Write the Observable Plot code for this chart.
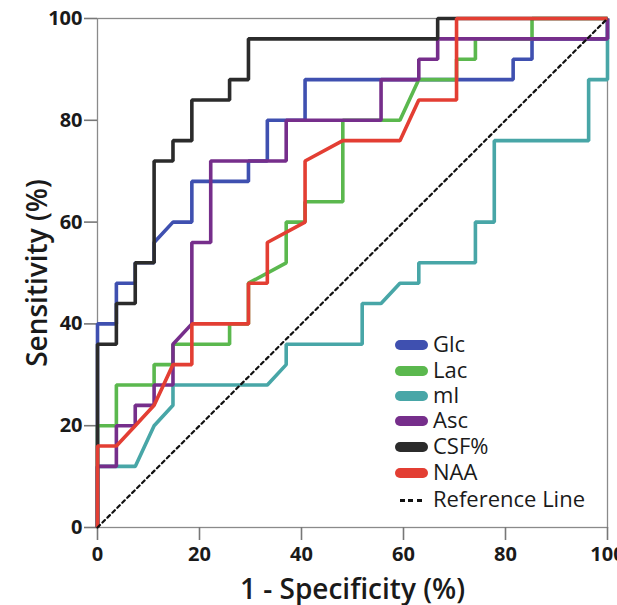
<!DOCTYPE html>
<html><head><meta charset="utf-8">
<script src="https://cdn.jsdelivr.net/npm/d3@7"></script>
<script src="https://cdn.jsdelivr.net/npm/@observablehq/plot@0.6"></script>
<style>
body{margin:0;background:#fff;}
#wrap{position:relative;width:617px;height:605px;overflow:hidden;font-family:"Open Sans",sans-serif;background:#fff;}
#wrap svg [aria-label="x-axis label"], #wrap svg [aria-label="y-axis label"]{font-size:28px;font-weight:600;}
#wrap svg [aria-label="x-axis tick label"], #wrap svg [aria-label="y-axis tick label"]{font-size:20px;font-weight:700;}
.leg{position:absolute;left:395px;font-size:22px;color:#1a1a1a;line-height:1;}
.leg .sw{position:absolute;left:0;width:33px;height:10px;border-radius:5px;}
.leg .tx{position:absolute;left:38px;white-space:nowrap;}
</style></head><body><div id="wrap"></div>
<script>
// Series names and colours
const seriesNames = ["Glc", "Lac", "mI", "Asc", "CSF%", "NAA"];
const seriesColors = ["#3f50b0", "#5bb84e", "#48a6a7", "#762e8b", "#2b2b2b", "#e33e33"];

// ROC points: 1 - specificity (%) and sensitivity (%)
const glcFpr  = [0, 0, 3.7, 3.7, 7.4, 7.4, 11.1, 11.1, 14.8, 18.5, 18.5, 29.6, 29.6, 33.3, 33.3, 40.7, 40.7, 81.5, 81.5, 85.2, 85.2, 100, 100];
const glcSens = [0, 40, 40, 48, 48, 52, 52, 56, 60, 60, 68, 68, 72, 72, 80, 80, 88, 88, 92, 92, 96, 96, 100];

const lacFpr  = [0, 0, 3.7, 3.7, 11.1, 11.1, 14.8, 14.8, 25.9, 25.9, 29.6, 29.6, 37.0, 37.0, 40.7, 40.7, 48.1, 48.1, 59.3, 63.0, 70.4, 70.4, 74.1, 74.1, 85.2, 85.2, 100];
const lacSens = [0, 20, 20, 28, 28, 32, 32, 36, 36, 40, 40, 48, 52, 60, 60, 64, 64, 80, 80, 88, 88, 92, 92, 96, 96, 100, 100];

const miFpr  = [0, 0, 7.4, 11.1, 14.8, 14.8, 33.3, 37.0, 37.0, 51.9, 51.9, 55.6, 59.3, 63.0, 63.0, 74.1, 74.1, 77.8, 77.8, 96.3, 96.3, 100, 100];
const miSens = [0, 12, 12, 20, 24, 28, 28, 32, 36, 36, 44, 44, 48, 48, 52, 52, 60, 60, 76, 76, 88, 88, 100];

const ascFpr  = [0, 0, 3.7, 3.7, 7.4, 7.4, 11.1, 11.1, 14.8, 14.8, 18.5, 18.5, 22.2, 22.2, 37.0, 37.0, 55.6, 55.6, 63.0, 63.0, 66.7, 66.7, 100, 100];
const ascSens = [0, 12, 12, 20, 20, 24, 24, 28, 28, 36, 40, 56, 56, 72, 72, 80, 80, 88, 88, 92, 92, 96, 96, 100];

const csfFpr  = [0, 0, 3.7, 3.7, 7.4, 7.4, 11.1, 11.1, 14.8, 14.8, 18.5, 18.5, 25.9, 25.9, 29.6, 29.6, 66.7, 66.7, 100];
const csfSens = [0, 36, 36, 44, 44, 52, 52, 72, 72, 76, 76, 84, 84, 88, 88, 96, 96, 100, 100];

const naaFpr  = [0, 0, 3.7, 7.4, 11.1, 14.8, 18.5, 18.5, 29.6, 29.6, 33.3, 33.3, 40.7, 40.7, 48.1, 59.3, 63.0, 70.4, 70.4, 100];
const naaSens = [0, 16, 16, 20, 24, 32, 32, 40, 40, 48, 48, 56, 60, 72, 76, 76, 84, 84, 100, 100];

const refFpr  = [0, 100];
const refSens = [0, 100];

const xTicks = [0, 20, 40, 60, 80, 100];
const yTicks = [0, 20, 40, 60, 80, 100];

const seriesX = [glcFpr, lacFpr, miFpr, ascFpr, csfFpr, naaFpr];
const seriesY = [glcSens, lacSens, miSens, ascSens, csfSens, naaSens];

const rows = [];
seriesNames.forEach((name, i) => {
  seriesX[i].forEach((x, j) => rows.push({name, fpr: x, sens: seriesY[i][j]}));
});
const refRows = refFpr.map((x, j) => ({fpr: x, sens: refSens[j]}));

const chart = Plot.plot({
  width: 617, height: 605,
  marginLeft: 97, marginRight: 10, marginTop: 18, marginBottom: 78,
  style: {fontFamily: "Open Sans, sans-serif", color: "#1a1a1a", background: "#fff", overflow: "visible"},
  x: {domain: [0, 100]},
  y: {domain: [0, 100]},
  color: {domain: seriesNames, range: seriesColors},
  marks: [
    Plot.frame({stroke: "#8a8a8a", strokeWidth: 1.3}),
    Plot.axisX({ticks: xTicks, tickSize: 13, tickPadding: 6, stroke: "#777", strokeWidth: 1.6,
      tickFormat: d => String(d), label: "1 - Specificity (%)", labelAnchor: "center", labelArrow: "none", labelOffset: 71, fill: "#1a1a1a"}),
    Plot.axisY({ticks: yTicks, tickSize: 13, tickPadding: 2, stroke: "#777", strokeWidth: 1.6,
      tickFormat: d => String(d), label: "Sensitivity (%)", labelAnchor: "center", labelArrow: "none", labelOffset: 70, fill: "#1a1a1a"}),
    Plot.line(rows, {x: "fpr", y: "sens", z: "name", stroke: "name", strokeWidth: 3.6, strokeLinejoin: "miter", strokeLinecap: "butt"}),
    Plot.line(refRows, {x: "fpr", y: "sens", stroke: "#111", strokeWidth: 2.2, strokeDasharray: "3.5,3.5"})
  ]
});
const wrap = document.getElementById("wrap");
wrap.appendChild(chart);

// Legend
const legTop = [345, 371, 396, 421, 447, 473];
seriesNames.forEach((name, i) => {
  const d = document.createElement("div");
  d.className = "leg";
  d.style.top = legTop[i] + "px";
  d.innerHTML = `<div class="sw" style="background:${seriesColors[i]};top:-5px"></div><div class="tx" style="top:-13px">${name}</div>`;
  wrap.appendChild(d);
});
const r = document.createElement("div");
r.className = "leg";
r.style.top = "500px";
r.innerHTML = `<div style="position:absolute;left:5px;top:-1.5px;width:22px;height:3px;background:repeating-linear-gradient(90deg,#111 0 5px,transparent 5px 8.5px)"></div><div class="tx" style="top:-13px">Reference Line</div>`;
wrap.appendChild(r);
</script></body></html>
